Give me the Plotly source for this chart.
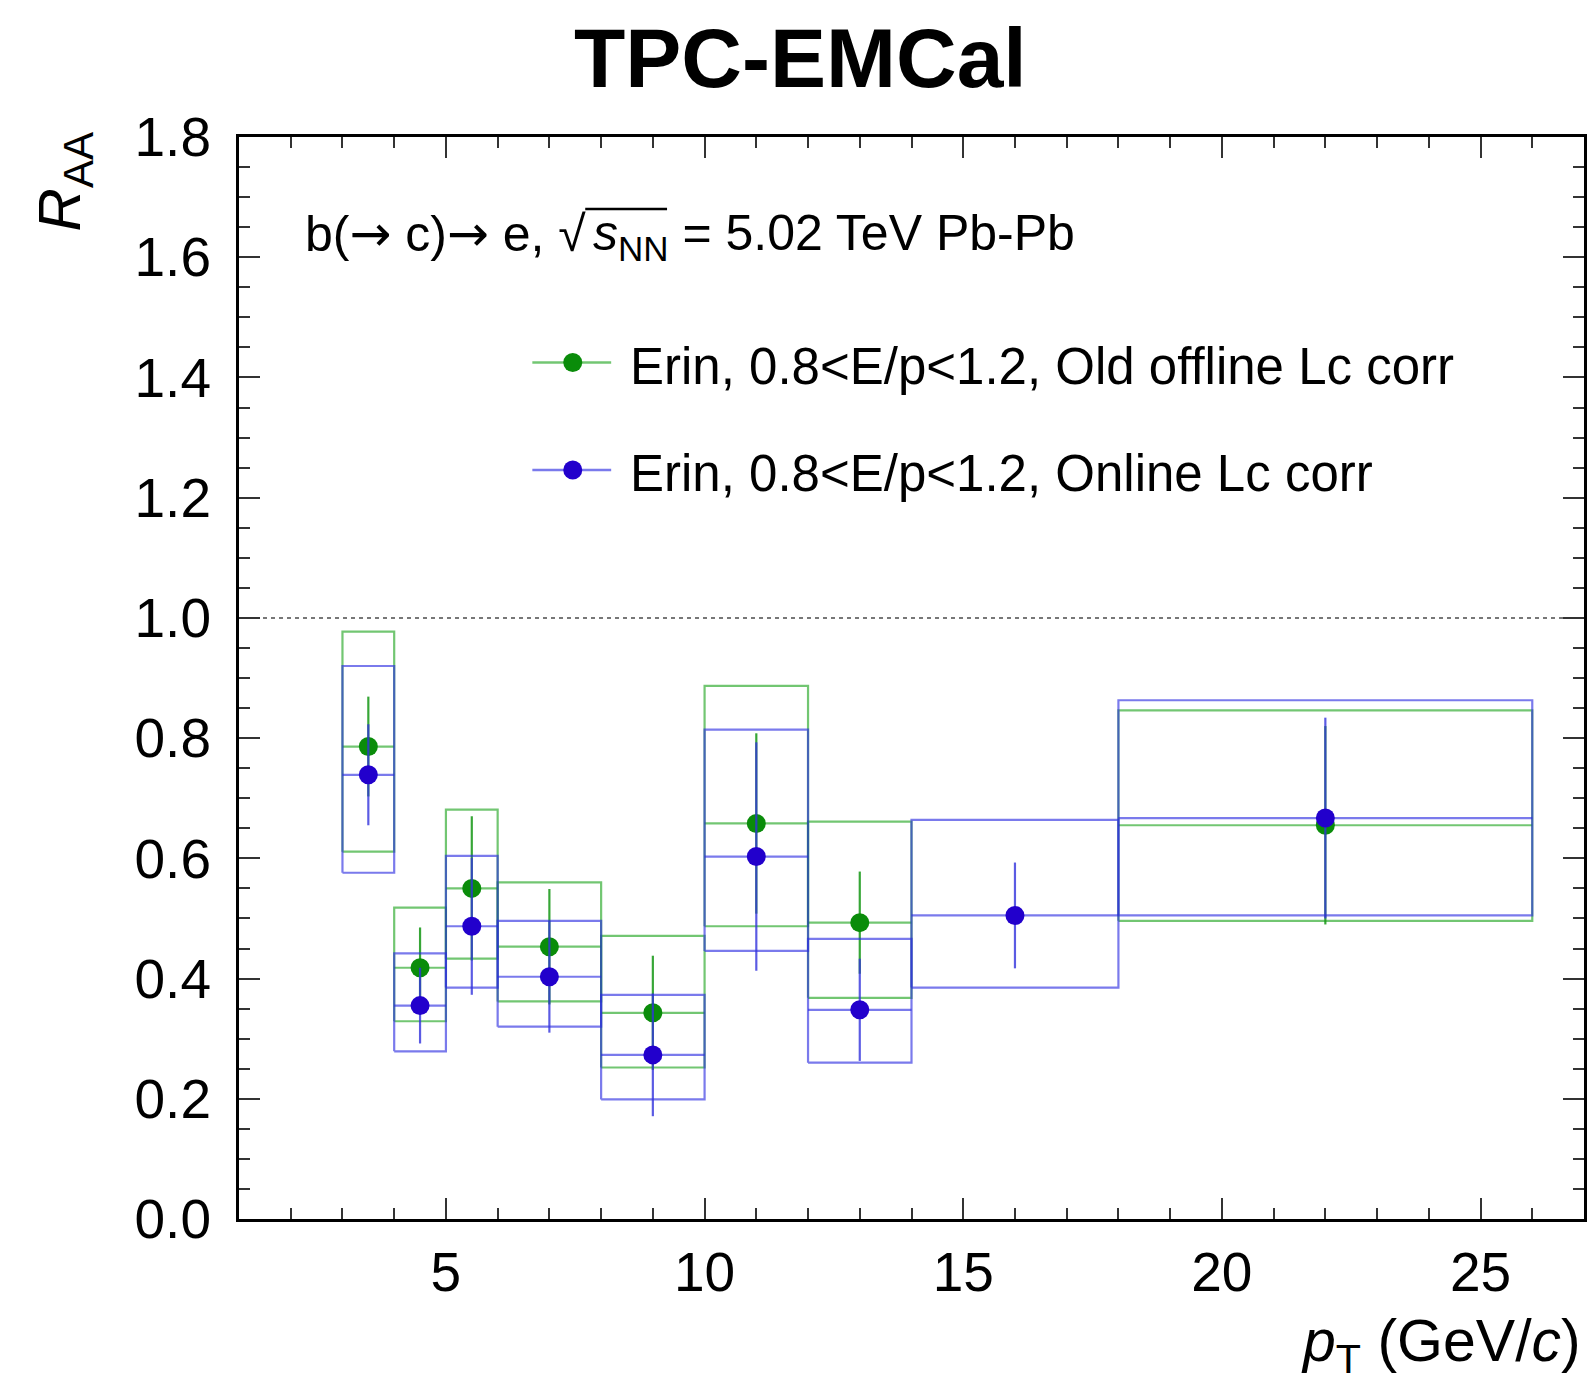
import plotly.graph_objects as go

# pT bins (GeV/c)
pt_lo = [3, 4, 5, 6, 8, 10, 12, 14, 18]
pt_hi = [4, 5, 6, 8, 10, 12, 14, 18, 26]
pt_center = [3.5, 4.5, 5.5, 7, 9, 11, 13, 16, 22]

# Old offline Lc correction (no point in the 14-18 bin)
old_raa = [0.786, 0.418, 0.550, 0.453, 0.343, 0.658, 0.493, None, 0.655]
old_stat = [0.083, 0.067, 0.120, 0.096, 0.095, 0.150, 0.085, None, 0.165]
old_sys_hi = [0.977, 0.518, 0.681, 0.560, 0.471, 0.887, 0.661, None, 0.846]
old_sys_lo = [0.611, 0.329, 0.433, 0.362, 0.252, 0.487, 0.368, None, 0.496]

# Online Lc correction
onl_raa = [0.739, 0.355, 0.487, 0.403, 0.273, 0.603, 0.348, 0.505, 0.667]
onl_stat = [0.084, 0.063, 0.114, 0.093, 0.102, 0.190, 0.085, 0.088, 0.167]
onl_sys_hi = [0.920, 0.442, 0.604, 0.496, 0.373, 0.814, 0.466, 0.664, 0.863]
onl_sys_lo = [0.576, 0.279, 0.385, 0.320, 0.199, 0.446, 0.260, 0.385, 0.505]

legend_labels = [
    "Erin, 0.8&lt;E/p&lt;1.2, Old offline Lc corr",
    "Erin, 0.8&lt;E/p&lt;1.2, Online Lc corr",
]

X_RANGE = [1, 27]
Y_RANGE = [0, 1.8]

W, H = 1592, 1386
ML, MR, MT, MB = 239, 5, 137, 167
PW, PH = W - ML - MR, H - MT - MB

FONT = "Liberation Sans, Arial, Helvetica, sans-serif"
ARROW = "<span style='font-family:DejaVu Sans'>\u2192</span>"

GREEN_MK = "#0a8c0a"
GREEN_LN = "rgba(20,160,20,0.60)"
GREEN_ERR = "rgba(20,150,20,0.85)"
BLUE_MK = "#2200cc"
BLUE_LN = "rgba(40,40,225,0.62)"
BLUE_ERR = "rgba(50,50,220,0.80)"


def px_x(px):
    return (px - ML) / PW


def px_y(py):
    return (MT + PH - py) / PH


def keep(*cols):
    """Drop bins where the series has no measurement."""
    rows = [r for r in zip(*cols) if all(v is not None for v in r)]
    return [list(c) for c in zip(*rows)]


def box_path(lo, hi, ylo, yhi):
    xs, ys = [], []
    for a, b, c, d in zip(lo, hi, ylo, yhi):
        xs += [a, b, b, a, a, None]
        ys += [c, c, d, d, c, None]
    return xs, ys


fig = go.Figure()

series = [
    (old_raa, old_stat, old_sys_lo, old_sys_hi, GREEN_MK, GREEN_LN, GREEN_ERR),
    (onl_raa, onl_stat, onl_sys_lo, onl_sys_hi, BLUE_MK, BLUE_LN, BLUE_ERR),
]

for raa, stat, slo, shi, mk, ln, err in series:
    lo, hi, xc, val, st, s_lo, s_hi = keep(pt_lo, pt_hi, pt_center, raa, stat, slo, shi)
    half_width = [(b - a) / 2 for a, b in zip(lo, hi)]
    bx, by = box_path(lo, hi, s_lo, s_hi)
    fig.add_trace(go.Scatter(
        x=bx, y=by, mode="lines", line=dict(color=ln, width=2.2),
        showlegend=False, hoverinfo="skip",
    ))
    fig.add_trace(go.Scatter(
        x=xc, y=val, mode="markers",
        marker=dict(color=mk, size=19, line=dict(width=0)),
        error_x=dict(type="data", array=half_width, width=0, thickness=2.2, color=ln),
        error_y=dict(type="data", array=st, width=0, thickness=2.2, color=err),
        showlegend=False,
    ))

shapes = [
    # reference line at unity
    dict(type="line", xref="paper", yref="y", x0=0, x1=1, y0=1, y1=1,
         line=dict(color="#777777", width=2, dash="4px,4px"), layer="below"),
    # overline of the square root
    dict(type="line", xref="paper", yref="paper",
         x0=px_x(586), x1=px_x(668), y0=px_y(209), y1=px_y(209),
         line=dict(color="black", width=2.5)),
]

annotations = []

# legend entries
leg_rows = [(362.5, GREEN_MK, GREEN_LN), (470.0, BLUE_MK, BLUE_LN)]
for (ly, mk, ln), label in zip(leg_rows, legend_labels):
    shapes.append(dict(type="line", xref="paper", yref="paper",
                       x0=px_x(533), x1=px_x(612), y0=px_y(ly), y1=px_y(ly),
                       line=dict(color=ln, width=2.5)))
    shapes.append(dict(type="circle", xref="paper", yref="paper",
                       xsizemode="pixel", ysizemode="pixel",
                       xanchor=px_x(573.5), yanchor=px_y(ly),
                       x0=-9.5, x1=9.5, y0=-9.5, y1=9.5,
                       fillcolor=mk, line=dict(width=0)))
    annotations.append(dict(xref="paper", yref="paper", x=px_x(629), y=px_y(ly + 4),
                            xanchor="left", yanchor="middle", showarrow=False,
                            text=label, font=dict(family=FONT, size=51, color="black")))

# collision system label, split at the square root sign
annotations.append(dict(
    xref="paper", yref="paper", x=px_x(589), y=px_y(203),
    xanchor="right", yanchor="top", showarrow=False,
    text=f"b({ARROW}&nbsp;c){ARROW}&nbsp;e, \u221a",
    font=dict(family=FONT, size=50, color="black"),
))
annotations.append(dict(
    xref="paper", yref="paper", x=px_x(592), y=px_y(203),
    xanchor="left", yanchor="top", showarrow=False,
    text="<i>s</i><sub>NN</sub> = 5.02 TeV Pb-Pb",
    font=dict(family=FONT, size=50, color="black"),
))

# title
annotations.append(dict(
    xref="paper", yref="paper", x=px_x(802), y=px_y(58),
    xanchor="center", yanchor="middle", showarrow=False,
    text="<b>TPC-EMCal</b>", font=dict(family=FONT, size=84, color="black"),
))

# axis titles
annotations.append(dict(
    xref="paper", yref="paper", x=px_x(64), y=px_y(182),
    xanchor="center", yanchor="middle", showarrow=False, textangle=-90,
    text="<i>R</i><sub>AA</sub>", font=dict(family=FONT, size=60, color="black"),
))
annotations.append(dict(
    xref="paper", yref="paper", x=px_x(1586), y=px_y(1345),
    xanchor="right", yanchor="middle", showarrow=False,
    text="<i>p</i><sub>T</sub> (GeV/<i>c</i>)", font=dict(family=FONT, size=59, color="black"),
))

axis_common = dict(
    showline=True, linecolor="black", linewidth=3, mirror="allticks",
    ticks="inside", tickcolor="#333333", tickwidth=2, ticklen=21,
    showgrid=False, zeroline=False,
    tickfont=dict(family=FONT, size=55, color="black"),
)

fig.update_layout(
    width=W, height=H,
    margin=dict(l=ML, r=MR, t=MT, b=MB, pad=0),
    paper_bgcolor="white", plot_bgcolor="white",
    xaxis=dict(range=X_RANGE, tickvals=[5, 10, 15, 20, 25], ticklabelstandoff=3,
               minor=dict(dtick=1, tick0=0, ticks="inside", ticklen=11,
                          tickwidth=2, tickcolor="#333333", showgrid=False),
               **axis_common),
    yaxis=dict(range=Y_RANGE, dtick=0.2, tick0=0, tickformat=".1f", ticklabelstandoff=14,
               minor=dict(dtick=0.05, tick0=0, ticks="inside", ticklen=11,
                          tickwidth=2, tickcolor="#333333", showgrid=False),
               **axis_common),
    shapes=shapes,
    annotations=annotations,
    showlegend=False,
)

fig.write_html("out.html")
